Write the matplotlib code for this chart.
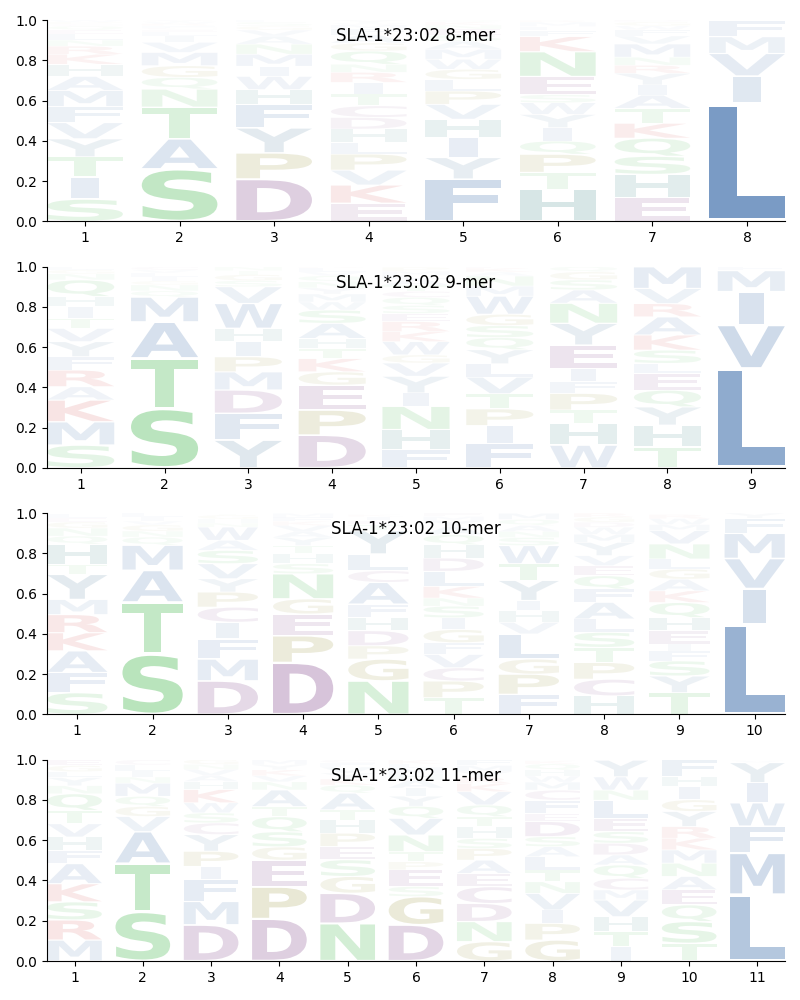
import matplotlib
matplotlib.use("Agg")
import matplotlib.pyplot as plt
from matplotlib.textpath import TextPath
from matplotlib.patches import PathPatch
from matplotlib.font_manager import FontProperties
from matplotlib.transforms import Affine2D

allele = "SLA-1*23:02"
lengths = [8, 9, 10, 11]

# letters per position, bottom to top, with their frequencies
mer8_letters = ["SITYVFMAHKRNLEQCPWDG", "SATNQGMVILECFRWY", "DPYFHWIMNAVGSL",
                "EKVPLHDCTIRNQGAFMWY", "FYIHVPLGWMASENKQ", "HTPQIYWSENKFLMR",
                "EHSQKTAIYRNMVFWGD", "LIVMF"]
mer8_freqs = [
    [.11, .11, .10, .09, .08, .08, .08, .07, .06, .05, .04, .03, .03, .02, .02, .01, .01, .01, .005, .005],
    [.26, .15, .157, .09, .058, .058, .066, .05, .033, .02, .01, .01, .01, .01, .01, .008],
    [.21, .13, .124, .116, .074, .066, .05, .06, .05, .04, .03, .02, .02, .01],
    [.09, .09, .074, .08, .058, .066, .058, .058, .058, .058, .05, .04, .066, .04, .04, .03, .02, .01, .014],
    [.21, .107, .10, .09, .074, .066, .058, .05, .05, .05, .04, .03, .03, .02, .015, .01],
    [.16, .083, .09, .066, .066, .066, .058, .04, .09, .124, .075, .03, .02, .02, .01],
    [.117, .116, .09, .09, .074, .074, .066, .05, .058, .04, .04, .066, .04, .03, .02, .02, .01],
    [.587, .135, .112, .083, .078],
]

mer9_letters = ["SMKARFYVTIHQNGL", "STAMQNGILVC", "YFDMPIHWVSGTN",
                "DPEGKTHASWMYNQVLR", "FHNIYVGWKRESQCTALMP", "FIPTVLYQSGWMNAKE",
                "WHTPFIEYNASGQ", "THYQELSKARVM", "LVIMF"]
mer9_freqs = [
    [.113, .116, .108, .066, .083, .066, .075, .066, .05, .058, .05, .083, .03, .02, .016],
    [.295, .25, .18, .124, .03, .03, .02, .02, .02, .015, .015],
    [.138, .133, .116, .09, .075, .075, .066, .124, .083, .03, .03, .02, .02],
    [.163, .124, .124, .066, .066, .05, .05, .075, .066, .04, .04, .03, .03, .03, .02, .02, .01],
    [.09, .10, .116, .066, .083, .066, .04, .066, .05, .05, .04, .04, .04, .03, .03, .03, .02, .02, .02],
    [.12, .09, .083, .075, .083, .066, .07, .06, .06, .056, .09, .05, .05, .02, .02, .01],
    [.113, .108, .066, .083, .058, .066, .116, .108, .10, .066, .05, .04, .026],
    [.104, .108, .091, .083, .083, .05, .066, .075, .09, .066, .075, .108],
    [.494, .216, .166, .104, .02],
]

mer10_letters = ["SFAKRMYTHQNGEL", "STAMQNGVIL", "DMFICPYVSAWNHGT",
                 "DPEGNSHTYAVKFM", "NGPDHFACLYTEIK", "TPCVFGISNKLDHQAYME",
                 "FPGLVHIYTWSNAQM", "HCPTSLAFQEVYMWDGR", "TYSFIEHQKAGLNVMWR", "LIVMFY"]
mer10_freqs = [
    [.108, .10, .108, .09, .09, .075, .125, .05, .10, .04, .04, .03, .02, .02],
    [.30, .258, .158, .125, .04, .03, .03, .02, .02, .018],
    [.167, .108, .10, .083, .075, .075, .066, .075, .066, .05, .066, .02, .02, .02, .006],
    [.258, .133, .108, .075, .125, .05, .05, .04, .04, .03, .03, .02, .02, .02],
    [.167, .108, .066, .075, .066, .066, .108, .058, .083, .116, .03, .02, .02, .01],
    [.083, .083, .066, .066, .058, .066, .058, .058, .04, .058, .075, .066, .066, .05, .04, .03, .02, .017],
    [.10, .10, .075, .125, .058, .058, .05, .10, .083, .09, .04, .03, .03, .03, .03],
    [.092, .083, .083, .075, .075, .066, .083, .066, .066, .05, .05, .066, .04, .035, .025, .025, .02],
    [.108, .083, .075, .05, .033, .066, .066, .075, .058, .058, .05, .05, .075, .066, .03, .03, .02],
    [.45, .175, .15, .125, .075, .025],
]

mer11_letters = ["MRSKAFHVTQNYLGE", "STAVGQMNILC", "DMFIPYCSWKHAVNG",
                 "DPEGSQTANVKYM", "NDGSEPHTAQKYVFC", "DGSEPTNVQYIAHMLK",
                 "GNDCEAPSHTQVKRYMF", "GPIVNTLASDEFCMWHQK", "ITHVMCQADSELNWY",
                 "TSQEANMKRYGIHF", "LMFWIYV"]
mer11_freqs = [
    [.104, .10, .09, .09, .10, .066, .066, .066, .066, .083, .04, .04, .03, .03, .03],
    [.245, .24, .158, .075, .05, .05, .066, .03, .03, .03, .026],
    [.18, .116, .108, .066, .075, .083, .058, .05, .05, .066, .04, .03, .03, .025, .025],
    [.21, .158, .133, .066, .075, .075, .05, .083, .04, .03, .03, .025, .025],
    [.187, .15, .083, .083, .066, .066, .066, .05, .083, .04, .03, .03, .03, .02, .016],
    [.18, .14, .05, .083, .04, .05, .083, .083, .06, .05, .04, .04, .03, .03, .02, .02],
    [.096, .10, .09, .083, .066, .066, .058, .05, .058, .05, .058, .066, .04, .03, .03, .03, .03],
    [.104, .083, .066, .083, .058, .058, .066, .05, .05, .075, .04, .066, .05, .04, .03, .03, .03, .016],
    [.07, .075, .075, .083, .05, .058, .066, .05, .058, .058, .066, .09, .05, .066, .083],
    [.088, .108, .083, .075, .066, .066, .066, .058, .058, .075, .058, .066, .05, .083],
    [.33, .207, .133, .116, .10, .10, .01],
]

all_letters = [mer8_letters, mer9_letters, mer10_letters, mer11_letters]
all_freqs = [mer8_freqs, mer9_freqs, mer10_freqs, mer11_freqs]

# residue colours (clustal-like groups)
blue = "#4a77b0"
green = "#45b84f"
purple = "#844a8c"
red = "#d03a3a"
teal = "#3a8585"
olive = "#8f8a2a"
colors = {}
for aa in "AILMFWV":
    colors[aa] = blue
for aa in "STNQ":
    colors[aa] = green
for aa in "DEC":
    colors[aa] = purple
for aa in "KR":
    colors[aa] = red
for aa in "PG":
    colors[aa] = olive
colors["H"] = teal
colors["Y"] = "#4d7f9e"

font = FontProperties(family="DejaVu Sans", weight="bold")
narrow = {"I": 0.38}


def draw_letter(ax, ch, x, y0, h, width=0.8, vpad=0.03):
    path = TextPath((0, 0), ch, size=1, prop=font)
    ext = path.get_extents()
    w = width * narrow.get(ch, 1.0)
    tr = (Affine2D().translate(-ext.x0, -ext.y0)
          .scale(w / ext.width, h * (1 - 2 * vpad) / ext.height)
          .translate(x - w / 2, y0 + h * vpad))
    alpha = min(1.0, 1.25 * h)
    ax.add_patch(PathPatch(tr.transform_path(path), facecolor=colors[ch],
                           edgecolor="none", alpha=alpha))


fig, axes = plt.subplots(4, 1, figsize=(8, 10))
plt.subplots_adjust(left=0.059, right=0.981, top=0.98, bottom=0.039, hspace=0.225)

for ax, n, letters, freqs in zip(axes, lengths, all_letters, all_freqs):
    for i in range(n):
        y = 0.0
        for ch, f in zip(letters[i], freqs[i]):
            draw_letter(ax, ch, i + 1, y, f)
            y += f
    ax.set_xlim(0.6, n + 0.4)
    ax.set_ylim(0, 1)
    ax.set_xticks(range(1, n + 1))
    ax.set_yticks([0, 0.2, 0.4, 0.6, 0.8, 1.0])
    ax.spines["top"].set_visible(False)
    ax.spines["right"].set_visible(False)
    ax.text(0.5, 0.92, f"{allele} {n}-mer", transform=ax.transAxes,
            ha="center", va="center", fontsize=12, zorder=10)

plt.savefig("out.png", dpi=100)
